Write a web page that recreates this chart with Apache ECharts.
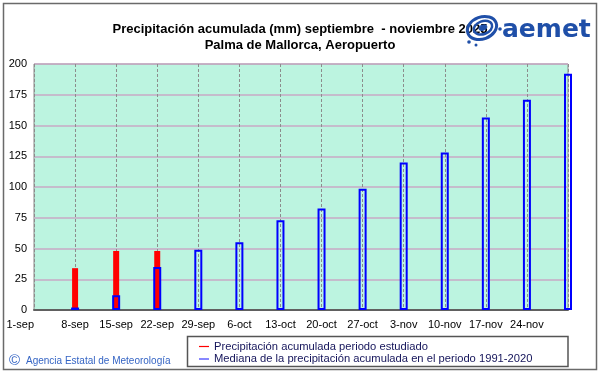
<!DOCTYPE html>
<html>
<head>
<meta charset="utf-8">
<script src="https://cdn.jsdelivr.net/npm/echarts@6/dist/echarts.min.js"></script>
<style>html,body{margin:0;padding:0;background:#fff}#c{width:601px;height:374px}</style>
</head>
<body>
<div id="c"></div>
<script>
const categories = ['1-sep','8-sep','15-sep','22-sep','29-sep','6-oct','13-oct','20-oct','27-oct','3-nov','10-nov','17-nov','24-nov','1-dic'];
const observed = [null, 34, 48, 48, null, null, null, null, null, null, null, null, null, null];
const median = [null, 2, 12, 35, 49, 55, 73, 82.5, 98.5, 120, 128, 156.5, 171, 192];
const yTicks = {min: 0, max: 200, interval: 25};
const seriesNames = ['Precipitación acumulada periodo estudiado', 'Mediana de la precipitación acumulada en el periodo 1991-2020'];

const chart = echarts.init(document.getElementById('c'), null, {renderer: 'canvas'});
const FONT = 'Liberation Sans, Arial, sans-serif';
const legendText = {fontFamily: FONT, fontSize: 11.2, color: '#14145a'};
chart.setOption({
  animation: false,
  backgroundColor: '#ffffff',
  title: {
    text: 'Precipitación acumulada (mm) septiembre  - noviembre 2025\nPalma de Mallorca, Aeropuerto',
    left: 295, top: 17, textAlign: 'center',
    textStyle: {fontFamily: FONT, fontSize: 13, fontWeight: 'bold', color: '#000', lineHeight: 15.5}
  },
  grid: {
    left: 34, right: 33, top: 64, bottom: 64,
    show: true, backgroundColor: '#bcf4e0', borderColor: '#8a8a8a', borderWidth: 1
  },
  legend: [
    {
      left: 199, top: 341, padding: 0, itemWidth: 10, itemHeight: 1.2, itemGap: 5,
      textStyle: legendText,
      data: [{name: seriesNames[0], icon: 'rect', itemStyle: {color: '#ff0000', borderWidth: 0}}]
    },
    {
      left: 199, top: 353.5, padding: 0, itemWidth: 10, itemHeight: 1.2,
      textStyle: legendText,
      data: [{name: seriesNames[1], icon: 'rect', itemStyle: {color: '#3a3aff', borderWidth: 0}}]
    }
  ],
  xAxis: [
    {
      type: 'category', data: categories, boundaryGap: false,
      axisLine: {show: true, lineStyle: {color: '#606060', width: 2}},
      axisTick: {show: false},
      axisLabel: {
        fontFamily: FONT, fontSize: 11, color: '#000', margin: 9, interval: 0,
        alignMinLabel: 'right',
        formatter: (v, i) => (i === categories.length - 1 ? '' : v)
      },
      splitLine: {show: true, lineStyle: {color: '#8c8c8c', type: [3, 2], width: 1}}
    },
    {
      type: 'category', data: categories, boundaryGap: false, position: 'bottom',
      show: false
    }
  ],
  yAxis: {
    type: 'value', min: yTicks.min, max: yTicks.max, interval: yTicks.interval,
    axisLine: {show: false}, axisTick: {show: false},
    axisLabel: {fontFamily: FONT, fontSize: 11, color: '#000', margin: 7},
    splitLine: {show: true, lineStyle: {color: '#c9aac6', width: 1.5}}
  },
  series: [
    {
      name: seriesNames[0], type: 'bar', data: observed, barWidth: 6, xAxisIndex: 0,
      itemStyle: {color: '#ff0000'}, z: 2
    },
    {
      name: seriesNames[1], type: 'bar', data: median, barWidth: 8, xAxisIndex: 1,
      itemStyle: {color: 'rgba(0,0,0,0)', borderColor: '#0000ff', borderWidth: 2}, z: 3
    }
  ],
  graphic: [
    {type: 'rect', shape: {x: 3.5, y: 3.5, width: 593, height: 366}, style: {fill: 'none', stroke: '#6a6a6a', lineWidth: 1.5}, z: 100, silent: true},
    {type: 'rect', shape: {x: 187.5, y: 336.5, width: 380.5, height: 30}, style: {fill: 'none', stroke: '#555', lineWidth: 1.5}, z: 100, silent: true},
    {type: 'text', x: 9, y: 361, style: {text: '©', fontFamily: FONT, fontSize: 15, fill: '#3464c4', verticalAlign: 'middle'}, z: 100},
    {type: 'text', x: 26, y: 361, style: {text: 'Agencia Estatal de Meteorología', fontFamily: FONT, fontSize: 10, fill: '#3464c4', verticalAlign: 'middle'}, z: 100},
    {type: 'text', x: 502, y: 30, style: {text: 'aemet', fontFamily: 'DejaVu Sans, sans-serif', fontSize: 25, fontWeight: 'bold', fill: '#1f4fa8', verticalAlign: 'middle'}, z: 100},
    {type: 'group', x: 482, y: 28, rotation: 0.35, z: 100, children: [
      {type: 'ellipse', shape: {cx: 0, cy: 0, rx: 15, ry: 11}, style: {fill: 'none', stroke: '#1f4fa8', lineWidth: 3}, z: 100},
      {type: 'ellipse', shape: {cx: 1, cy: 0, rx: 9.5, ry: 6.5}, style: {fill: 'none', stroke: '#1f4fa8', lineWidth: 2.5}, z: 100},
      {type: 'ellipse', shape: {cx: 1, cy: 0, rx: 4, ry: 2.5}, style: {fill: '#1f4fa8', stroke: '#1f4fa8', lineWidth: 1}, z: 100}
    ]},
    {type: 'circle', shape: {cx: 469, cy: 42, r: 1.8}, style: {fill: '#1f4fa8'}, z: 100},
    {type: 'circle', shape: {cx: 500, cy: 29, r: 1.8}, style: {fill: '#1f4fa8'}, z: 100},
    {type: 'circle', shape: {cx: 476, cy: 45, r: 1.5}, style: {fill: '#1f4fa8'}, z: 100}
  ]
});
</script>
</body>
</html>
